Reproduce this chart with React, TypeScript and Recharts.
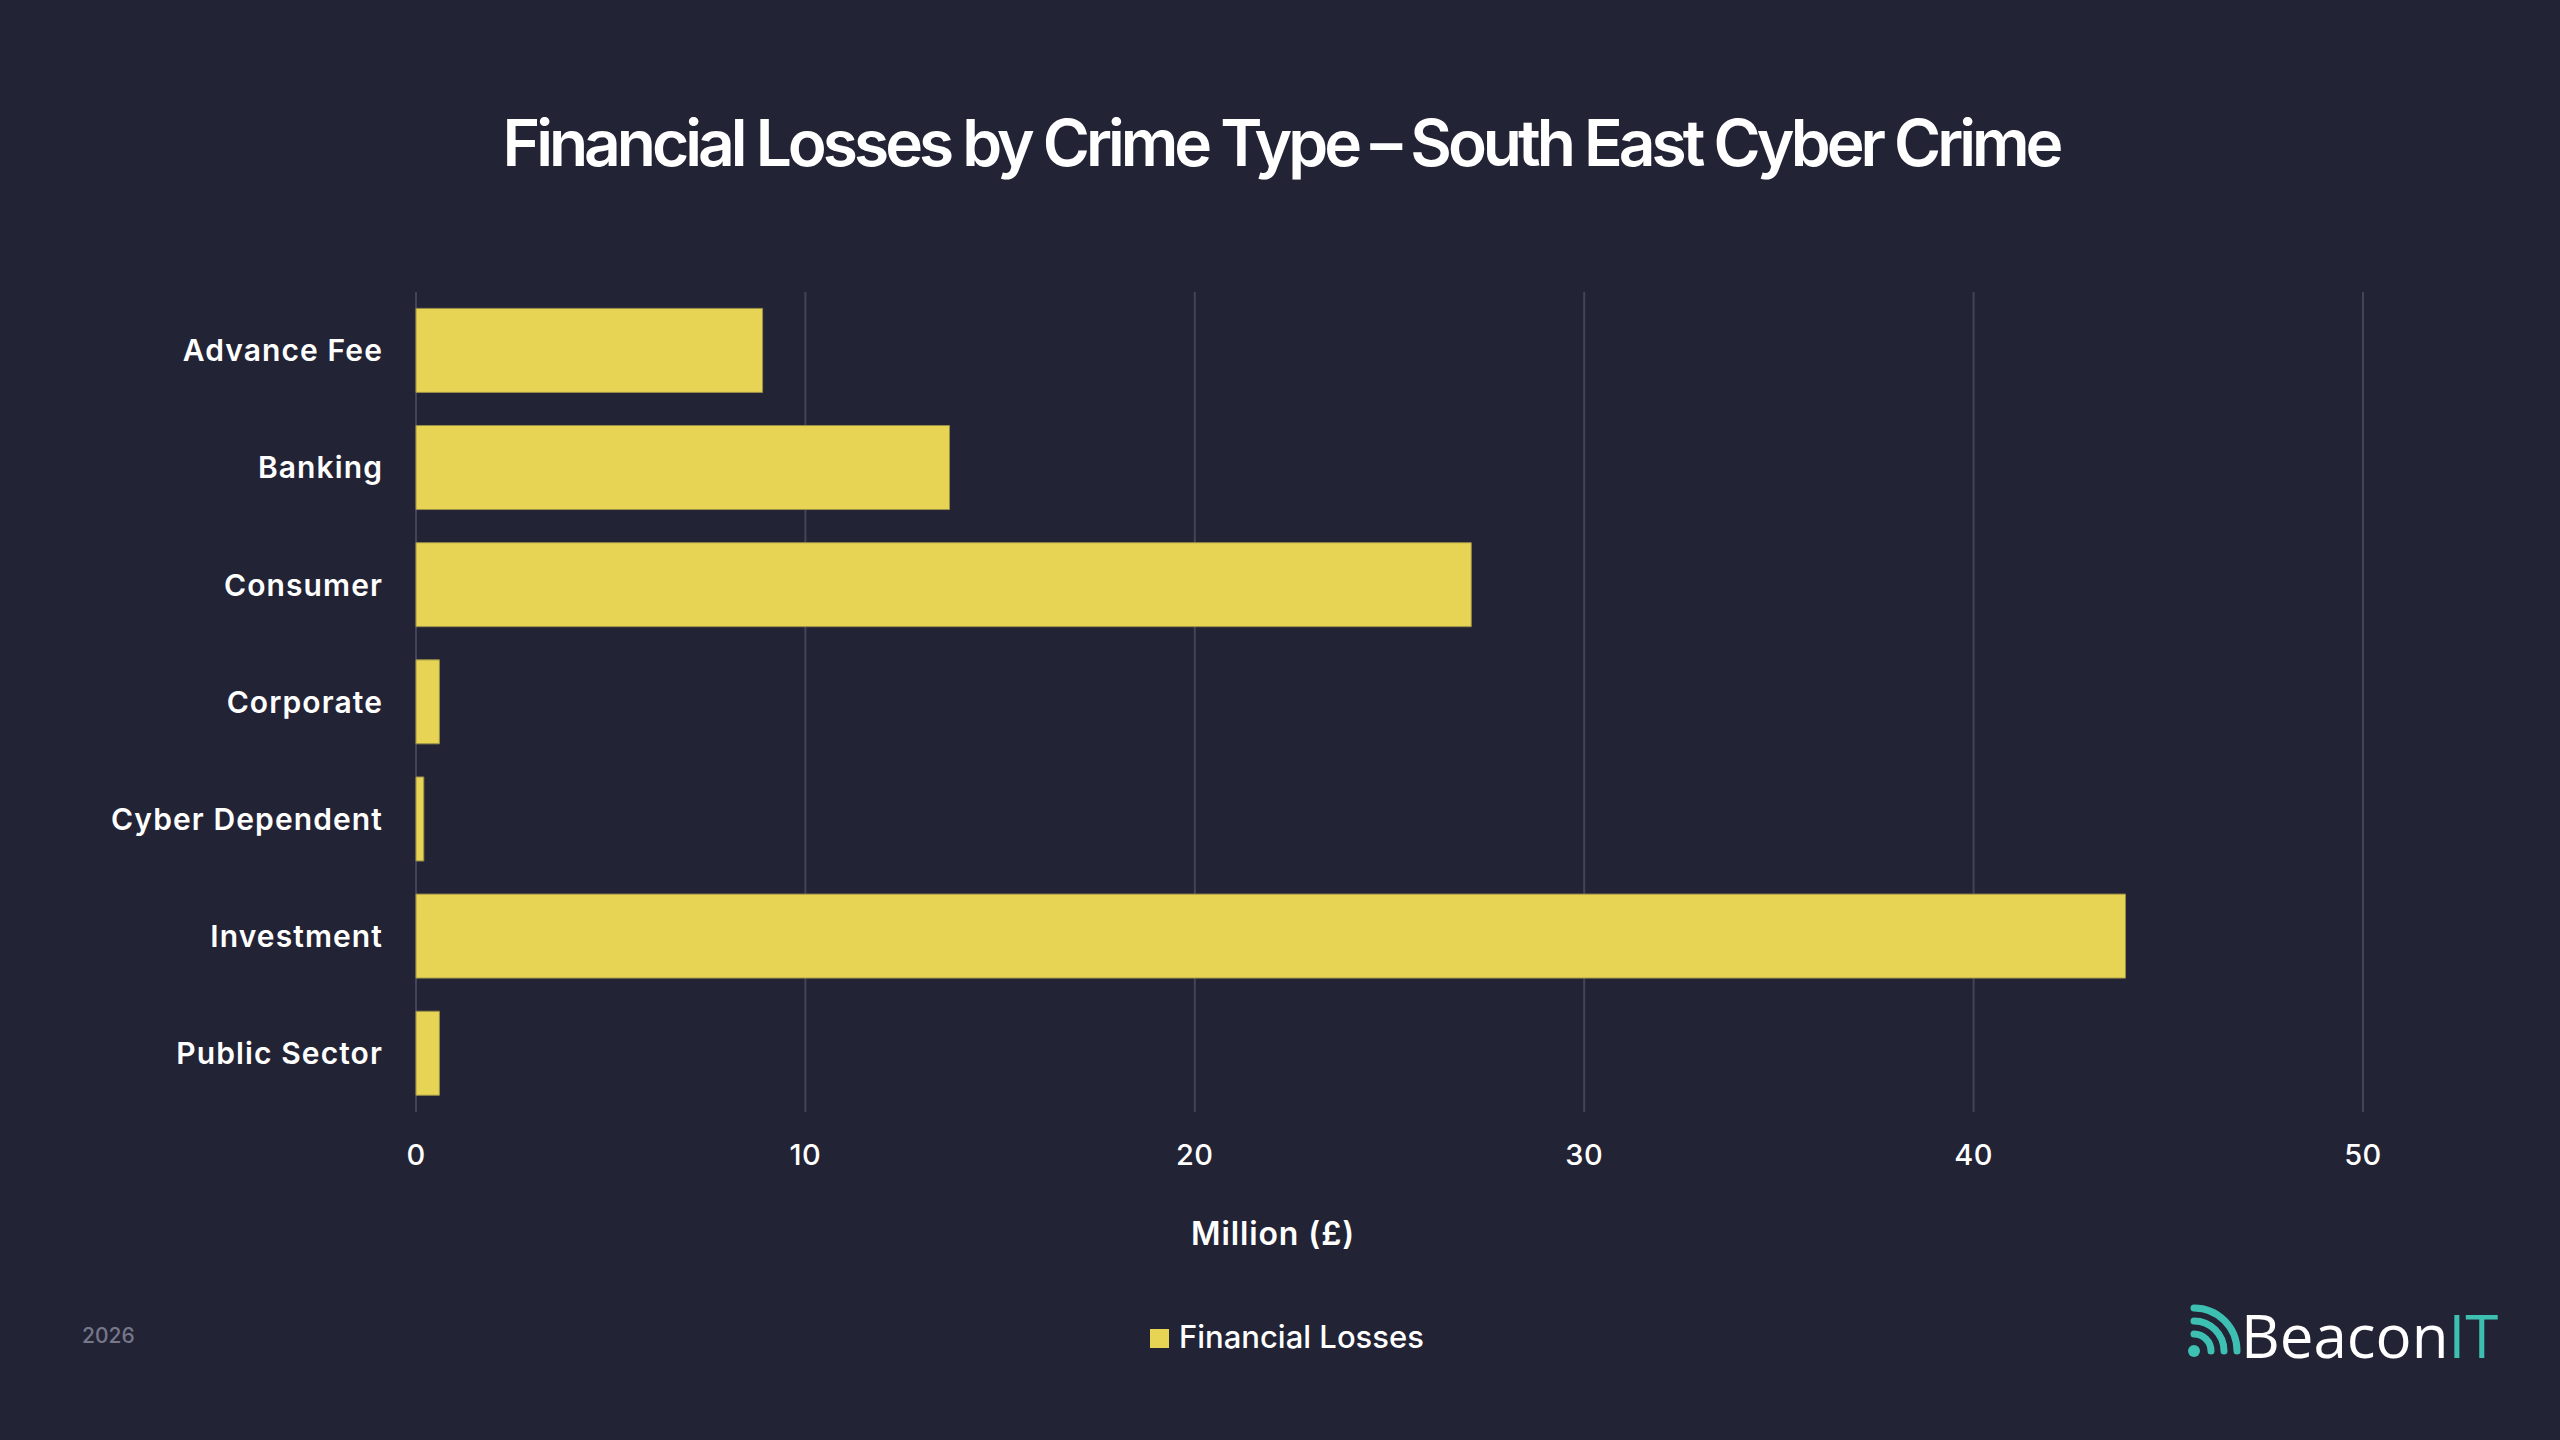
import React from "react";
import { BarChart, Bar, XAxis, YAxis, CartesianGrid } from "recharts";

const categories: string[] = [
  "Advance Fee",
  "Banking",
  "Consumer",
  "Corporate",
  "Cyber Dependent",
  "Investment",
  "Public Sector",
];
const losses: number[] = [8.9, 13.7, 27.1, 0.6, 0.2, 43.9, 0.6];
const xTicks: number[] = [0, 10, 20, 30, 40, 50];

const titleText = "Financial Losses by Crime Type – South East Cyber Crime";
const xAxisTitle = "Million (£)";
const seriesName = "Financial Losses";
const yearText = "2026";

const BG = "#232336";
const BAR = "#e8d454";
const GRID = "#43435a";
const TEAL = "#3dbfb1";
const FONT = "Inter, 'Noto Sans', sans-serif";

const data = categories.map((c, i) => ({ name: c, value: losses[i] }));

export default function App() {
  return (
    <div
      style={{
        position: "absolute",
        left: 0,
        top: 0,
        width: 2560,
        height: 1440,
        background: BG,
        overflow: "hidden",
        fontFamily: FONT,
      }}
    >
      <BarChart
        width={2560}
        height={1440}
        data={data}
        layout="vertical"
        margin={{ top: 292, right: 197, bottom: 268, left: 0 }}
        barCategoryGap="14%"
      >
        <CartesianGrid horizontal={false} stroke={GRID} strokeWidth={2} />
        <XAxis
          type="number"
          domain={[0, 50]}
          ticks={xTicks}
          height={60}
          axisLine={false}
          tickLine={false}
          tickMargin={26}
          tick={{ fill: "#ffffff", fontSize: 29, fontFamily: FONT, fontWeight: 500, letterSpacing: 0.5 }}
        />
        <YAxis
          type="category"
          dataKey="name"
          width={416}
          axisLine={false}
          tickLine={false}
          tickMargin={27}
          interval={0}
          tick={{ fill: "#ffffff", fontSize: 30, fontFamily: FONT, fontWeight: 600, letterSpacing: 1.1 }}
        />
        <Bar
          dataKey="value"
          name={seriesName}
          fill={BAR}
          stroke="#9a8f48"
          strokeWidth={1}
          isAnimationActive={false}
        />
      </BarChart>
      <svg
        width={2560}
        height={1440}
        style={{ position: "absolute", left: 0, top: 0, pointerEvents: "none" }}
      >
        <text
          x={1281}
          y={166}
          textAnchor="middle"
          fill="#ffffff"
          fontSize={64}
          fontWeight={600}
          letterSpacing={-4}
          fontFamily={FONT}
        >
          {titleText}
        </text>
        <text
          x={1273}
          y={1245}
          textAnchor="middle"
          fill="#ffffff"
          fontSize={32}
          fontWeight={600}
          letterSpacing={0.9}
          fontFamily={FONT}
        >
          {xAxisTitle}
        </text>
        <rect x={1150} y={1329} width={19} height={19} fill={BAR} />
        <text x={1179} y={1348} fill="#ffffff" fontSize={31} fontWeight={500} fontFamily={FONT}>
          {seriesName}
        </text>
        <text x={82} y={1343} fill="#77778a" fontSize={21} fontWeight={500} fontFamily={FONT}>
          {yearText}
        </text>
        <g>
          <circle cx={2194} cy={1351} r={6} fill={TEAL} />
          <path d="M 2194 1334 A 17 17 0 0 1 2211 1351" stroke={TEAL} strokeWidth={7} fill="none" strokeLinecap="round" />
          <path d="M 2194 1321 A 30 30 0 0 1 2224 1351" stroke={TEAL} strokeWidth={7} fill="none" strokeLinecap="round" />
          <path d="M 2194 1308 A 43 43 0 0 1 2237 1351" stroke={TEAL} strokeWidth={7} fill="none" strokeLinecap="round" />
          <text x={2241} y={1358} fontSize={60} fontWeight={500} fontFamily="'Open Sans', sans-serif" fill="#ffffff">
            Beacon<tspan fill={TEAL}>IT</tspan>
          </text>
        </g>
      </svg>
    </div>
  );
}
